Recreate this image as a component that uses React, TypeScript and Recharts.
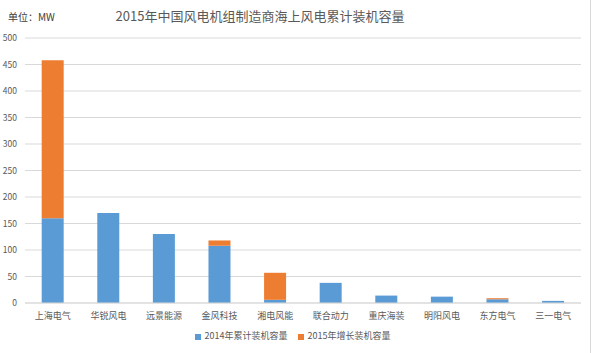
import { Bar, BarChart, CartesianGrid, Legend, XAxis, YAxis } from 'recharts';

const makers = ['上海电气', '华锐风电', '远景能源', '金风科技', '湘电风能', '联合动力', '重庆海装', '明阳风电', '东方电气', '三一电气'];
const installed2014 = [160, 170, 130, 108, 6, 38, 14, 12, 7, 4];
const added2015 = [298, 0, 0, 10, 51, 0, 0, 0, 2, 0];
const yTicks = [0, 50, 100, 150, 200, 250, 300, 350, 400, 450, 500];

const data = makers.map((name, i) => ({
	name,
	a: installed2014[i],
	b: added2015[i],
}));

const font = '"Noto Sans CJK SC", "Noto Sans", sans-serif';

export default function App() {
	return (
		<div
			style={{
				position: 'absolute',
				left: 0,
				top: 0,
				width: 593,
				height: 353,
				background: '#fff',
				fontFamily: font,
			}}
		>
			<div style={{ position: 'absolute', left: 8, top: 9, fontSize: 10, color: '#404040' }}>单位：MW</div>
			<div
				style={{
					position: 'absolute',
					left: 0,
					width: 520,
					top: 6,
					textAlign: 'center',
					fontSize: 13,
					color: '#595959',
				}}
			>
				2015年中国风电机组制造商海上风电累计装机容量
			</div>
			<div style={{ position: 'absolute', left: 590, top: 0, width: 1, height: 353, background: '#d9d9d9' }} />
			<BarChart
				data={data}
				width={590}
				height={353}
				margin={{ top: 38, right: 9, bottom: 11, left: 0 }}
				barCategoryGap="30%"
			>
				<CartesianGrid vertical={false} stroke="#d9d9d9" />
				<XAxis
					dataKey="name"
					tickLine={false}
					axisLine={{ stroke: '#d9d9d9' }}
					height={26}
					interval={0}
					dy={2}
					tick={{ fontSize: 9, fill: '#595959', fontFamily: font }}
				/>
				<YAxis
					width={25}
					domain={[0, 500]}
					ticks={yTicks}
					tickLine={false}
					axisLine={false}
					tick={{ fontSize: 8.5, fill: '#595959', fontFamily: font }}
				/>
				<Legend
					iconType="square"
					iconSize={6}
					wrapperStyle={{ fontSize: 9, fontFamily: font, color: '#595959', left: 7 }}
					formatter={(v) => <span style={{ color: '#595959' }}>{v}</span>}
				/>
				<Bar dataKey="a" name="2014年累计装机容量" stackId="s" fill="#5b9bd5" isAnimationActive={false} />
				<Bar dataKey="b" name="2015年增长装机容量" stackId="s" fill="#ed7d31" isAnimationActive={false} />
			</BarChart>
		</div>
	);
}
